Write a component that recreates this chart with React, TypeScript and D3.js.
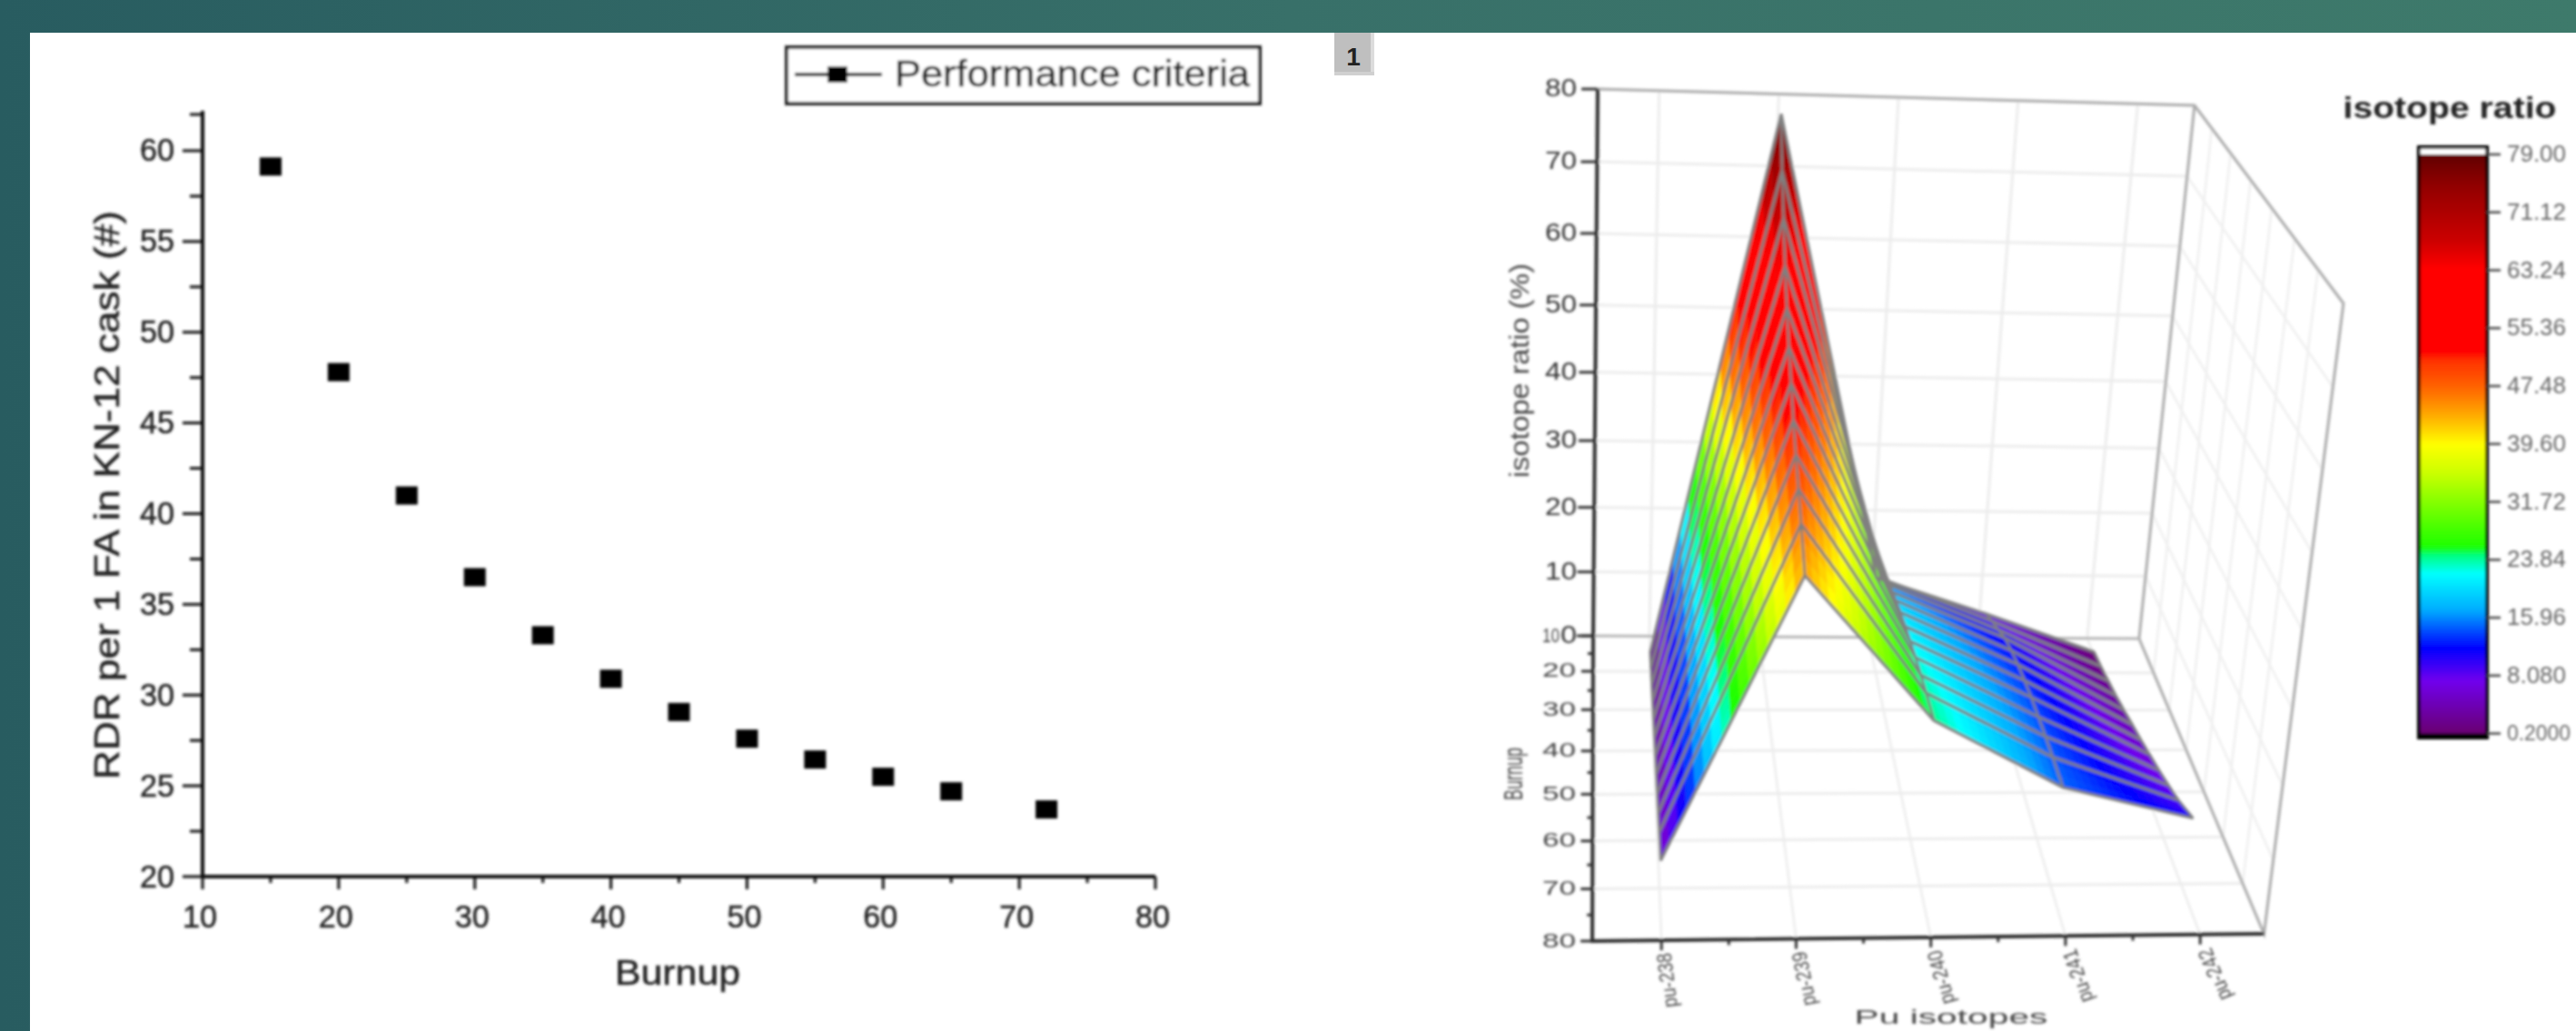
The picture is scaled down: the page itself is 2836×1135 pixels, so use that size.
import * as d3 from "d3";
import React from "react";

// ---------- left chart data ----------
const burnups = [15, 20, 25, 30, 35, 40, 45, 50, 55, 60, 65, 72];
const rdr = [59.13, 47.8, 41.0, 36.5, 33.3, 30.9, 29.07, 27.6, 26.45, 25.5, 24.7, 23.7];
const xMajor = [10, 20, 30, 40, 50, 60, 70, 80];
const xMinor = [15, 25, 35, 45, 55, 65, 75];
const yMajor = [20, 25, 30, 35, 40, 45, 50, 55, 60];
const yMinor = [22.5, 27.5, 32.5, 37.5, 42.5, 47.5, 52.5, 57.5, 62];

// ---------- right chart data ----------
const isotopes = ["pu-238", "pu-239", "pu-240", "pu-241", "pu-242"];
const pu238 = [0.2, 0.5, 0.9, 1.3, 1.7, 2.1, 2.5, 2.9, 3.4, 3.9, 4.5, 5.3];
const pu239 = [79, 73, 68.5, 64, 60.5, 57.5, 55, 52.5, 50.5, 48.5, 46.5, 43.5];
const pu240 = [12, 14.5, 16.5, 18, 19.5, 20.5, 21.3, 22, 22.7, 23.2, 23.7, 24.2];
const pu241 = [6.5, 8, 9.5, 11, 12, 12.8, 13.4, 13.9, 14.2, 14.5, 14.7, 14.9];
const pu242 = [0.6, 1, 1.6, 2.2, 3, 3.8, 4.6, 5.5, 6.4, 7.4, 8.5, 10.5];
const surface = [pu238, pu239, pu240, pu241, pu242];
const zTicks = [0, 10, 20, 30, 40, 50, 60, 70, 80];
const depthTicks = [10, 20, 30, 40, 50, 60, 70, 80];
const depthMinor = [15, 25, 35, 45, 55, 65, 75];
const legendTicks = ["79.00", "71.12", "63.24", "55.36", "47.48", "39.60", "31.72", "23.84", "15.96", "8.080", "0.2000"];
const legendValues = [79, 71.12, 63.24, 55.36, 47.48, 39.6, 31.72, 23.84, 15.96, 8.08, 0.2];
const colorDomain = [0.2, 7.5, 11.9, 17, 22, 24.5, 25.7, 35.8, 39.6, 43.4, 47, 51, 52.2, 63.5, 67.3, 75, 79];
const colorRange = ["#6a0070", "#7000ee", "#0000ff", "#00aaff", "#00ffff", "#00ff80", "#1aff00", "#ccff00", "#ffff00", "#ffae00", "#ff6a00", "#ff3000", "#ff0000", "#ff0000", "#cc0000", "#900000", "#600000"];

const FONT = "'Liberation Sans', Arial, sans-serif";
const ink = "#222";

function T({ x, y, size, len, anchor = "middle", rotate, fill = ink, weight, heavy, children }: any) {
  return (
    <text
      x={x}
      y={y}
      fontFamily={FONT}
      fontSize={size}
      fontWeight={weight}
      fill={fill}
      stroke={heavy ? fill : undefined}
      strokeWidth={heavy ? heavy : undefined}
      textAnchor={anchor}
      dominantBaseline="central"
      textLength={len}
      lengthAdjust={len ? "spacingAndGlyphs" : undefined}
      transform={rotate !== undefined ? `rotate(${rotate} ${x} ${y})` : undefined}
    >
      {children}
    </text>
  );
}

// ---------- left chart scales ----------
const sx = d3.scaleLinear().domain([10, 80]).range([223, 1272]);
const sy = d3.scaleLinear().domain([20, 62.2]).range([965, 122]);

// ---------- right chart projection (box corners in page space) ----------
const C = {
  blb: [1754, 700], brb: [2355, 703], frb: [2492.5, 1028], flb: [1753, 1036],
  blt: [1759, 98], brt: [2416, 116], frt: [2580, 334], flt: [1758, 351],
};
const uScale = d3.scaleLinear().domain([0, 4]).range([0.103, 0.905]);
const vScale = d3.scaleLinear().domain(depthTicks).range([0, 0.116, 0.242, 0.377, 0.519, 0.672, 0.829, 1]);
const wScale = d3.scaleLinear().domain(zTicks).range([0, 0.117, 0.235, 0.357, 0.482, 0.605, 0.736, 0.867, 1]);

const mix = (a: number[], b: number[], t: number) => [a[0] + (b[0] - a[0]) * t, a[1] + (b[1] - a[1]) * t];
function box(u: number, v: number, w: number) {
  const back = mix(mix(C.blb, C.brb, u), mix(C.blt, C.brt, u), w);
  const front = mix(mix(C.flb, C.frb, u), mix(C.flt, C.frt, u), w);
  return mix(back, front, v);
}
const line = d3.line();
const seg = (a: number[], b: number[]) => line([a as [number, number], b as [number, number]]) as string;

const color = d3.scaleLinear<string>().domain(colorDomain).range(colorRange).interpolate(d3.interpolateRgb);

const legendY = d3.scaleLinear().domain([0.2, 79]).range([807.5, 170]);

function surfaceCells() {
  const out: any[] = [];
  const NU = 16;
  const NV = 3;
  const z = (i: number, j: number) => surface[i][j];
  for (let j = 0; j < burnups.length - 1; j++) {
    for (let sv = 0; sv < NV; sv++) {
      for (let i = 0; i < isotopes.length - 1; i++) {
        for (let su = 0; su < NU; su++) {
          const corner = (a: number, b: number) => {
            const tu = (su + a) / NU;
            const tv = (sv + b) / NV;
            const zv =
              (z(i, j) * (1 - tu) + z(i + 1, j) * tu) * (1 - tv) +
              (z(i, j + 1) * (1 - tu) + z(i + 1, j + 1) * tu) * tv;
            return {
              p: box(uScale(i + tu), vScale(burnups[j] + (burnups[j + 1] - burnups[j]) * tv), wScale(zv)),
              z: zv,
            };
          };
          const q = [corner(0, 0), corner(1, 0), corner(1, 1), corner(0, 1)];
          const avg = d3.mean(q, (d) => d.z) as number;
          const c = color(avg);
          out.push(
            <path
              key={`${j}-${sv}-${i}-${su}`}
              d={(line(q.map((d) => d.p as [number, number])) as string) + "Z"}
              fill={c}
              stroke={c}
              strokeWidth={0.7}
            />
          );
        }
      }
    }
  }
  return out;
}

function Left() {
  return (
    <g>
      {/* legend */}
      <rect x={866} y={52} width={521} height={62} fill="#fff" stroke="#222" strokeWidth={4} />
      <path d={seg([875, 82], [971, 82])} stroke="#222" strokeWidth={4} />
      <rect x={911} y={73} width={22} height={18} fill="#000" />
      <T x={985} y={81} size={40} len={391} anchor="start" heavy={0.5}>Performance criteria</T>

      {/* axes */}
      <path d={seg([sx(10), sy(62.2)], [sx(10), sy(20) + 2])} stroke="#111" strokeWidth={4} />
      <path d={seg([sx(10), sy(20)], [sx(80), sy(20)])} stroke="#111" strokeWidth={4} />
      {xMajor.map((t) => (
        <g key={t}>
          <path d={seg([sx(t), sy(20)], [sx(t), sy(20) + 14])} stroke="#111" strokeWidth={3} />
          <T x={sx(t) - 3} y={1008} size={35} len={38} heavy={0.5}>{t}</T>
        </g>
      ))}
      {xMinor.map((t) => (
        <path key={t} d={seg([sx(t), sy(20)], [sx(t), sy(20) + 7])} stroke="#111" strokeWidth={3} />
      ))}
      {yMajor.map((t) => (
        <g key={t}>
          <path d={seg([sx(10) - 22, sy(t)], [sx(10), sy(t)])} stroke="#111" strokeWidth={3} />
          <T x={192} y={sy(t) - 1} size={35} len={38} anchor="end" heavy={0.5}>{t}</T>
        </g>
      ))}
      {yMinor.map((t) => (
        <path key={t} d={seg([sx(10) - 14, sy(t)], [sx(10), sy(t)])} stroke="#111" strokeWidth={3} />
      ))}

      <T x={117} y={545} size={39} len={626} rotate={-90} heavy={0.5}>RDR per 1 FA in KN-12 cask (#)</T>
      <T x={746} y={1071} size={38} len={138} heavy={0.5}>Burnup</T>

      {/* points */}
      {burnups.map((b, i) => (
        <rect key={b} x={sx(b) - 12} y={sy(rdr[i]) - 10} width={24} height={20} fill="#000" />
      ))}
    </g>
  );
}

function Right() {
  const grid = "#ececec";
  const edge = "#aaaaaa";
  const isoMinor = [0.5, 1.5, 2.5, 3.5];
  return (
    <g>
      {/* back wall grid */}
      {zTicks.slice(1).map((t) => (
        <path key={t} d={seg(box(0, 0, wScale(t)), box(1, 0, wScale(t)))} stroke={grid} strokeWidth={3} fill="none" />
      ))}
      {isotopes.map((_, i) => (
        <path key={i} d={seg(box(uScale(i), 0, 0), box(uScale(i), 0, 1))} stroke={grid} strokeWidth={3} fill="none" />
      ))}
      {/* floor grid */}
      {depthTicks.slice(1).map((t) => (
        <path key={t} d={seg(box(0, vScale(t), 0), box(1, vScale(t), 0))} stroke={grid} strokeWidth={3} fill="none" />
      ))}
      {isotopes.map((_, i) => (
        <path key={i} d={seg(box(uScale(i), 0, 0), box(uScale(i), 1, 0))} stroke={grid} strokeWidth={2.5} fill="none" />
      ))}
      {/* right wall grid */}
      {zTicks.slice(1).map((t) => (
        <path key={t} d={seg(box(1, 0, wScale(t)), box(1, 1, wScale(t)))} stroke="#efefef" strokeWidth={2.5} fill="none" />
      ))}
      {depthTicks.slice(1).map((t) => (
        <path key={t} d={seg(box(1, vScale(t), 0), box(1, vScale(t), 1))} stroke="#efefef" strokeWidth={2.5} fill="none" />
      ))}

      {/* box edges */}
      <path d={line([C.blt, C.brt, C.frt, C.frb, C.brb, C.brt] as any) as string} stroke={edge} strokeWidth={3} fill="none" />
      <path d={seg(C.blb, C.brb)} stroke="#b5b5b5" strokeWidth={3} fill="none" />

      {/* surface */}
      {surfaceCells()}
      {burnups.map((b, j) => (
        <path
          key={b}
          d={line(isotopes.map((_, i) => box(uScale(i), vScale(b), wScale(surface[i][j])) as [number, number])) as string}
          stroke="#808080"
          strokeWidth={3.2}
          fill="none"
        />
      ))}
      {isotopes.map((_, i) => (
        <path
          key={i}
          d={line(burnups.map((b, j) => box(uScale(i), vScale(b), wScale(surface[i][j])) as [number, number])) as string}
          stroke="#808080"
          strokeWidth={2.6}
          fill="none"
        />
      ))}

      {/* axes */}
      <path d={line([C.blt, C.blb, C.flb, C.frb] as any) as string} stroke="#2a2a2a" strokeWidth={4} fill="none" />
      {zTicks.map((t) => {
        const p = box(0, 0, wScale(t));
        return (
          <g key={t}>
            <path d={seg([p[0] - 18, p[1]], p)} stroke="#333" strokeWidth={3} />
            <T x={1736} y={p[1] - 1} size={27} len={t === 0 ? 18 : 35} anchor="end" fill="#333">{t}</T>
          </g>
        );
      })}
      {depthTicks.map((t) => {
        const p = box(0, vScale(t), 0);
        return (
          <g key={t}>
            <path d={seg([p[0] - 13, p[1]], p)} stroke="#333" strokeWidth={3} />
            <T x={t === 10 ? 1717 : 1735} y={p[1] - 1} size={22} len={t === 10 ? 19 : 37} anchor="end" fill="#444">{t}</T>
          </g>
        );
      })}
      {depthMinor.map((t) => {
        const p = box(0, vScale(t), 0);
        return <path key={t} d={seg([p[0] - 6, p[1]], p)} stroke="#333" strokeWidth={3} />;
      })}
      {isotopes.map((name, i) => {
        const p = box(uScale(i), 1, 0);
        return (
          <g key={name}>
            <path d={seg(p, [p[0], p[1] + 11])} stroke="#333" strokeWidth={3} />
            <T x={p[0] + 6 + i * 2.5} y={p[1] + 44} size={23} len={60} rotate={-97 - i * 4} fill="#444">{name}</T>
          </g>
        );
      })}
      {isoMinor.map((i) => {
        const p = box(uScale(i), 1, 0);
        return <path key={i} d={seg(p, [p[0], p[1] + 6])} stroke="#333" strokeWidth={3} />;
      })}

      <T x={1672} y={408} size={30} len={236} rotate={-90} fill="#444">isotope ratio (%)</T>
      <T x={1665} y={852} size={30} len={58} rotate={-90} fill="#444">Burnup</T>
      <T x={2148} y={1119} size={22} len={213} fill="#444">Pu isotopes</T>

      {/* colour scale */}
      <T x={2697} y={118} size={34} len={235} weight="bold" fill="#222">isotope ratio</T>
      <rect x={2663} y={162} width={75} height={650} fill="#fff" stroke="#000" strokeWidth={4} />
      {d3.range(0, 160).map((k) => {
        const v0 = 0.2 + (78.8 * k) / 160;
        const v1 = 0.2 + (78.8 * (k + 1)) / 160;
        return (
          <rect
            key={k}
            x={2665}
            y={legendY(v1)}
            width={71}
            height={legendY(v0) - legendY(v1) + 0.6}
            fill={color((v0 + v1) / 2)}
          />
        );
      })}
      <path d={seg([2663, 810], [2738, 810])} stroke="#000" strokeWidth={5} />
      {legendValues.map((v, i) => (
        <g key={v}>
          <path d={seg([2738, legendY(v)], [2753, legendY(v)])} stroke="#444" strokeWidth={2.5} />
          <T x={2760} y={legendY(v) - 1} size={v === 0.2 ? 23 : 26} len={v === 0.2 ? 70 : 65} anchor="start" fill="#666">{legendTicks[i]}</T>
        </g>
      ))}
    </g>
  );
}

export default function App() {
  return (
    <svg
      width={2836}
      height={1135}
      viewBox="0 0 2836 1135"
      style={{ position: "absolute", left: 0, top: 0, display: "block" }}
    >
      <defs>
        <linearGradient id="bg" x1="0" x2="1" y1="0" y2="0">
          <stop offset="0" stopColor="#285c60" />
          <stop offset="0.5" stopColor="#387069" />
          <stop offset="1" stopColor="#3e7a6b" />
        </linearGradient>
        <filter id="soft" x="0" y="0" width="2836" height="1135" filterUnits="userSpaceOnUse" primitiveUnits="userSpaceOnUse">
          <feGaussianBlur stdDeviation="1.6" />
        </filter>
      </defs>
      <rect width={2836} height={1135} fill="url(#bg)" />
      <rect x={33} y={36} width={2803} height={1099} fill="#fff" />
      <rect x={1469} y={36} width={44} height={47} fill="#bfbfbf" />
      <rect x={1509} y={36} width={4} height={47} fill="#dcdcdc" />
      <rect x={1469} y={79} width={44} height={4} fill="#d0d0d0" />
      <T x={1490} y={62} size={28} weight="bold" fill="#222">1</T>
      <g filter="url(#soft)">
        <Left />
        <Right />
      </g>
    </svg>
  );
}
